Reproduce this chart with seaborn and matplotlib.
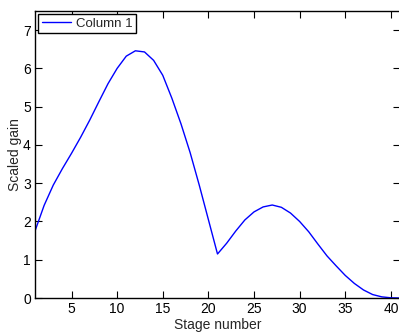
import matplotlib
matplotlib.use("Agg")
import matplotlib.pyplot as plt
import seaborn as sns
import pandas as pd

stages = list(range(1, 42))
gain = [1.75, 2.42, 2.95, 3.38, 3.78, 4.2, 4.65, 5.13, 5.6, 6.0,
        6.32, 6.46, 6.43, 6.21, 5.82, 5.22, 4.55, 3.8, 2.95, 2.05,
        1.15, 1.43, 1.75, 2.04, 2.25, 2.38, 2.43, 2.37, 2.22, 2.0,
        1.73, 1.41, 1.1, 0.84, 0.59, 0.38, 0.21, 0.09, 0.03, 0.005, 0.0]
series_name = "Column 1"
x_ticks = [5, 10, 15, 20, 25, 30, 35, 40]
y_ticks = [0, 1, 2, 3, 4, 5, 6, 7]

sns.set_style("ticks")
plt.rcParams['font.family'] = ['Liberation Sans', 'DejaVu Sans']

df = pd.DataFrame({"Stage number": stages, "Scaled gain": gain, "series": series_name})

fig = plt.figure(figsize=(3.99, 3.33), dpi=100)
ax = fig.add_axes([35/399, 1 - 298/333, 365/399, (298 - 11)/333])
sns.lineplot(data=df, x="Stage number", y="Scaled gain", hue="series",
             palette=["#0000ff"], linewidth=1.0, ax=ax)

ax.set_xlim(1, 41)
ax.set_ylim(0, 7.5)
ax.set_xticks(x_ticks)
ax.set_yticks(y_ticks)
ax.tick_params(direction="in", length=5, width=0.8, top=True, right=True,
               labelsize=10, colors="black", pad=3)
for s in ax.spines.values():
    s.set_visible(True)
    s.set_linewidth(1.0)
    s.set_color("black")
ax.set_xlabel("Stage number", fontsize=10, labelpad=1)
ax.set_ylabel("Scaled gain", fontsize=10, labelpad=1)

leg = ax.legend(loc="upper left", fontsize=9.5, frameon=True, fancybox=False,
                edgecolor="black", framealpha=1, borderaxespad=0.25,
                handlelength=2.2, borderpad=0.25, handletextpad=0.4)
leg.get_frame().set_linewidth(1.0)

fig.savefig("out.png", dpi=100)
